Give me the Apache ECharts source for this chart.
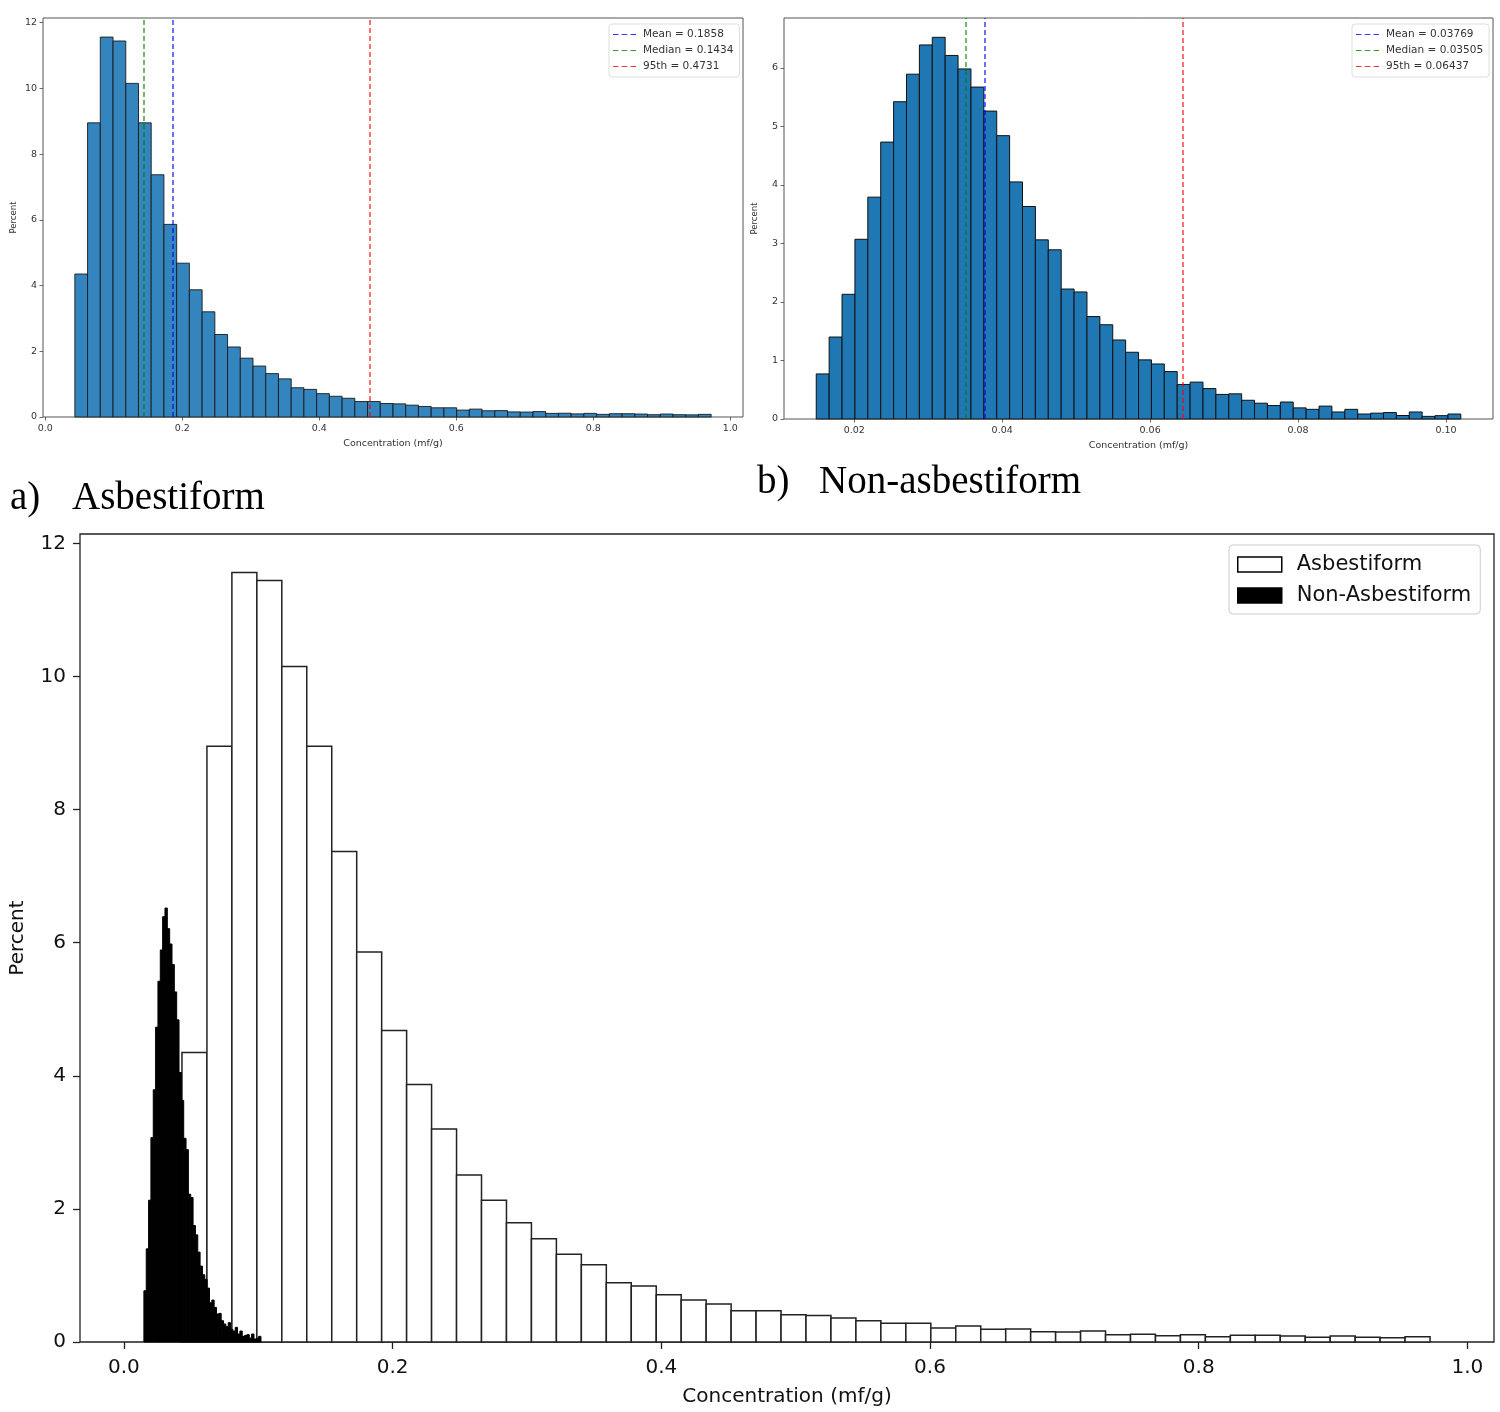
<!DOCTYPE html>
<html>
<head>
<meta charset="utf-8">
<script src="https://cdn.jsdelivr.net/npm/echarts@6/dist/echarts.min.js"></script>
<style>
html,body{margin:0;padding:0;background:#fff;}
#main{width:1500px;height:1412px;}
</style>
</head>
<body>
<div id="main"></div>
<script>
// histogram bins: start, width and bar heights (percent)
var asbStart = 0.0432, asbWidth = 0.01858;
var asbHeights = [
    4.35, 8.95, 11.56, 11.44, 10.15, 8.95, 7.37, 5.86, 4.68, 3.87,
    3.20, 2.51, 2.13, 1.79, 1.55, 1.32, 1.16, 0.89, 0.84, 0.71,
    0.63, 0.57, 0.47, 0.47, 0.41, 0.40, 0.36, 0.32, 0.28, 0.28,
    0.21, 0.24, 0.19, 0.195, 0.155, 0.15, 0.165, 0.11, 0.115, 0.095,
    0.11, 0.08, 0.10, 0.10, 0.09, 0.07, 0.09, 0.07, 0.065, 0.08
];
var nonStart = 0.01486, nonWidth = 0.001743;
var nonHeights = [
    0.77, 1.40, 2.13, 3.07, 3.79, 4.73, 5.42, 5.89, 6.39, 6.52,
    6.21, 5.98, 5.67, 5.26, 4.84, 4.05, 3.63, 3.06, 2.89, 2.22,
    2.17, 1.75, 1.61, 1.35, 1.14, 1.01, 0.94, 0.81, 0.59, 0.63,
    0.52, 0.42, 0.43, 0.32, 0.27, 0.23, 0.29, 0.19, 0.165, 0.22,
    0.12, 0.165, 0.085, 0.10, 0.11, 0.06, 0.12, 0.045, 0.057, 0.085
];

// summary stats
var asbStats = [['Mean', 0.1858, '0.1858', 'blue'], ['Median', 0.1434, '0.1434', 'green'], ['95th', 0.4731, '0.4731', 'red']];
var nonStats = [['Mean', 0.03769, '0.03769', 'blue'], ['Median', 0.03505, '0.03505', 'green'], ['95th', 0.06437, '0.06437', 'red']];

// tick labels
var ticksA_x = [0.0, 0.2, 0.4, 0.6, 0.8, 1.0];
var ticksA_y = [0, 2, 4, 6, 8, 10, 12];
var ticksB_x = [0.02, 0.04, 0.06, 0.08, 0.10];
var ticksB_y = [0, 1, 2, 3, 4, 5, 6];
var ticksC_x = [0.0, 0.2, 0.4, 0.6, 0.8, 1.0];
var ticksC_y = [0, 2, 4, 6, 8, 10, 12];

function toBins(start, width, heights) {
    var out = [];
    for (var i = 0; i < heights.length; i++) {
        out.push([start + i * width, start + (i + 1) * width, heights[i]]);
    }
    return out;
}

function histRender(fill, stroke, lw) {
    return function (params, api) {
        var p0 = api.coord([api.value(0), api.value(2)]);
        var p1 = api.coord([api.value(1), 0]);
        return {
            type: 'rect',
            shape: {x: p0[0], y: p0[1], width: p1[0] - p0[0], height: p1[1] - p0[1]},
            style: {fill: fill, stroke: stroke, lineWidth: lw}
        };
    };
}

var FONT = 'DejaVu Sans';

function xAxisCfg(idx, min, max, ticks, dec, small) {
    return {
        type: 'value', gridIndex: idx, min: min, max: max,
        name: 'Concentration (mf/g)', nameLocation: 'middle',
        nameGap: small ? 22 : 45,
        nameTextStyle: {fontFamily: FONT, fontSize: small ? 9.5 : 20, color: small ? '#333' : '#111'},
        axisLine: {show: false, onZero: false},
        splitLine: {show: false},
        axisTick: {show: true, customValues: ticks, length: small ? 3.5 : 7,
            lineStyle: {color: small ? '#444' : '#222', width: small ? 0.8 : 1.3}},
        axisLabel: {customValues: ticks, margin: small ? 7 : 16,
            fontFamily: FONT, fontSize: small ? 9.5 : 20, color: small ? '#333' : '#111',
            formatter: function (v) { return v.toFixed(dec); }}
    };
}

function yAxisCfg(idx, max, ticks, small) {
    return {
        type: 'value', gridIndex: idx, min: 0, max: max,
        name: 'Percent', nameLocation: 'middle', nameRotate: 90,
        nameGap: small ? 25 : 52,
        nameTextStyle: {fontFamily: FONT, fontSize: small ? 8.5 : 20, color: small ? '#333' : '#111'},
        axisLine: {show: false, onZero: false},
        splitLine: {show: false},
        axisTick: {show: true, customValues: ticks, length: small ? 3.5 : 7,
            lineStyle: {color: small ? '#444' : '#222', width: small ? 0.8 : 1.3}},
        axisLabel: {customValues: ticks, margin: small ? 6 : 14,
            fontFamily: FONT, fontSize: small ? 9.5 : 20, color: small ? '#333' : '#111',
            formatter: function (v) { return String(v); }}
    };
}

function statSeries(stats, idx) {
    return stats.map(function (s) {
        return {
            type: 'line', name: s[0] + ' = ' + s[2],
            xAxisIndex: idx, yAxisIndex: idx,
            data: [], symbol: 'none', color: s[3],
            itemStyle: {color: s[3]},
            lineStyle: {color: s[3], type: [5, 3], width: 1.5, opacity: 0.75},
            markLine: {
                silent: true, symbol: 'none', animation: false, precision: 6,
                label: {show: false},
                lineStyle: {color: s[3], type: [5, 3], width: 1.5, opacity: 0.75},
                data: [{xAxis: s[1]}]
            },
            z: 5
        };
    });
}

function smallLegend(idx, stats, left) {
    return {
        orient: 'vertical', left: left, top: 24,
        padding: [5, 6, 5, 4], itemGap: 5, itemWidth: 23, itemHeight: 10,
        backgroundColor: '#fff', borderColor: '#ddd', borderWidth: 1, borderRadius: 3,
        selectedMode: false,
        textStyle: {fontFamily: FONT, fontSize: 10.5, color: '#333', padding: [0, 0, 0, 2]},
        data: stats.map(function (s) {
            return {
                name: s[0] + ' = ' + s[2],
                icon: 'path://M0,0 L5,0 L5,1 L0,1 Z M8,0 L13,0 L13,1 L8,1 Z M16,0 L21,0 L21,1 L16,1 Z',
                itemStyle: {color: s[3], opacity: 0.8}
            };
        })
    };
}

var chart = echarts.init(document.getElementById('main'), null, {renderer: 'canvas'});

var option = {
    backgroundColor: '#fff',
    animation: false,
    grid: [
        {left: 43, top: 18, width: 700, height: 399, show: true, borderColor: '#555', borderWidth: 1, backgroundColor: '#fff'},
        {left: 784, top: 18, width: 709, height: 401, show: true, borderColor: '#555', borderWidth: 1, backgroundColor: '#fff'},
        {left: 79, top: 534, width: 1415, height: 808, show: true, borderColor: '#222', borderWidth: 1.3, backgroundColor: '#fff'}
    ],
    xAxis: [
        xAxisCfg(0, -0.0033, 1.0187, ticksA_x, 1, true),
        xAxisCfg(1, 0.0105, 0.10636, ticksB_x, 2, true),
        xAxisCfg(2, -0.0327, 1.0198, ticksC_x, 1, false)
    ],
    yAxis: [
        yAxisCfg(0, 12.14, ticksA_y, true),
        yAxisCfg(1, 6.85, ticksB_y, true),
        yAxisCfg(2, 12.14, ticksC_y, false)
    ],
    legend: [
        smallLegend(0, asbStats, 609),
        smallLegend(1, nonStats, 1352),
        {
            orient: 'vertical', left: 1229, top: 545,
            padding: [9, 9, 8, 8], itemGap: 10, itemWidth: 44, itemHeight: 15,
            backgroundColor: '#fff', borderColor: '#ccc', borderWidth: 1, borderRadius: 4,
            selectedMode: false,
            textStyle: {fontFamily: FONT, fontSize: 21, color: '#111', padding: [0, 0, 0, 10]},
            data: [
                {name: 'Asbestiform', icon: 'rect', itemStyle: {color: '#fff', borderColor: '#000', borderWidth: 1.5}},
                {name: 'Non-Asbestiform', icon: 'rect', itemStyle: {color: '#000', borderColor: '#000', borderWidth: 1.5}}
            ]
        }
    ],
    series: [
        {
            type: 'custom', name: 'Asbestiform (a)', xAxisIndex: 0, yAxisIndex: 0,
            renderItem: histRender('#3484be', '#1a1a1a', 0.9),
            encode: {x: [0, 1], y: 2}, data: toBins(asbStart, asbWidth, asbHeights), z: 2
        },
        {
            type: 'custom', name: 'Non-asbestiform (b)', xAxisIndex: 1, yAxisIndex: 1,
            renderItem: histRender('#1f77b4', '#111', 1),
            encode: {x: [0, 1], y: 2}, data: toBins(nonStart, nonWidth, nonHeights), z: 2
        },
        {
            type: 'custom', name: 'Asbestiform', xAxisIndex: 2, yAxisIndex: 2,
            itemStyle: {color: '#fff', borderColor: '#000'},
            renderItem: histRender('#fff', '#222', 1.5),
            encode: {x: [0, 1], y: 2}, data: toBins(asbStart, asbWidth, asbHeights), z: 2
        },
        {
            type: 'custom', name: 'Non-Asbestiform', xAxisIndex: 2, yAxisIndex: 2,
            itemStyle: {color: '#000'},
            renderItem: histRender('#000', '#000', 1),
            encode: {x: [0, 1], y: 2}, data: toBins(nonStart, nonWidth, nonHeights), z: 3
        }
    ].concat(statSeries(asbStats, 0), statSeries(nonStats, 1)),
    graphic: [
        {type: 'text', x: 10, y: 499, style: {text: 'a)', font: '39px "Liberation Serif"', fill: '#000', verticalAlign: 'middle'}},
        {type: 'text', x: 72, y: 499, style: {text: 'Asbestiform', font: '39px "Liberation Serif"', fill: '#000', verticalAlign: 'middle'}},
        {type: 'text', x: 757, y: 483, style: {text: 'b)', font: '39px "Liberation Serif"', fill: '#000', verticalAlign: 'middle'}},
        {type: 'text', x: 819, y: 483, style: {text: 'Non-asbestiform', font: '39px "Liberation Serif"', fill: '#000', verticalAlign: 'middle'}}
    ]
};

chart.setOption(option);
</script>
</body>
</html>
